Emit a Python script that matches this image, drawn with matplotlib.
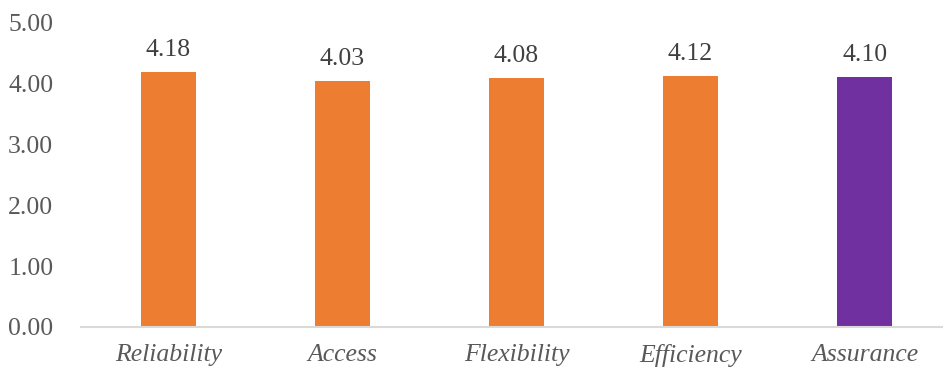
import matplotlib.pyplot as plt
import numpy as np

categories = ["Reliability", "Access", "Flexibility", "Efficiency", "Assurance"]
values = [4.18, 4.03, 4.08, 4.12, 4.10]
bar_colors = ["#ED7D31", "#ED7D31", "#ED7D31", "#ED7D31", "#7030A0"]
y_ticks = [0, 1, 2, 3, 4, 5]

plt.rcParams['font.family'] = ['Liberation Serif', 'DejaVu Serif']

fig = plt.figure(figsize=(9.43, 3.67), dpi=100)
ax = fig.add_axes([0.086, 0.109, 0.914, 0.831])

x = np.arange(len(categories))
bars = ax.bar(x, values, width=0.315, color=bar_colors)

# etykiety wartości nad słupkami
for rect, v in zip(bars, values):
    ax.annotate(f"{v:.2f}", (rect.get_x() + rect.get_width() / 2, v),
                xytext=(0, 8), textcoords="offset points",
                ha="center", va="bottom", fontsize=18.5, color="#404040")

ax.set_xlim(-0.5, 4.45)
ax.set_ylim(0, 5)
ax.set_yticks(y_ticks)
ax.set_yticklabels([f"{t:.2f}" for t in y_ticks])
ax.set_xticks(x)
ax.set_xticklabels(categories, fontstyle="italic")
ax.tick_params(axis="both", length=0, labelsize=18.5, labelcolor="#595959")
ax.tick_params(axis="y", pad=20)
ax.tick_params(axis="x", pad=12)

for s in ["top", "right", "left"]:
    ax.spines[s].set_visible(False)
ax.spines["bottom"].set_color("#D9D9D9")
ax.spines["bottom"].set_linewidth(1.5)

fig.savefig("out.png", dpi=100)
